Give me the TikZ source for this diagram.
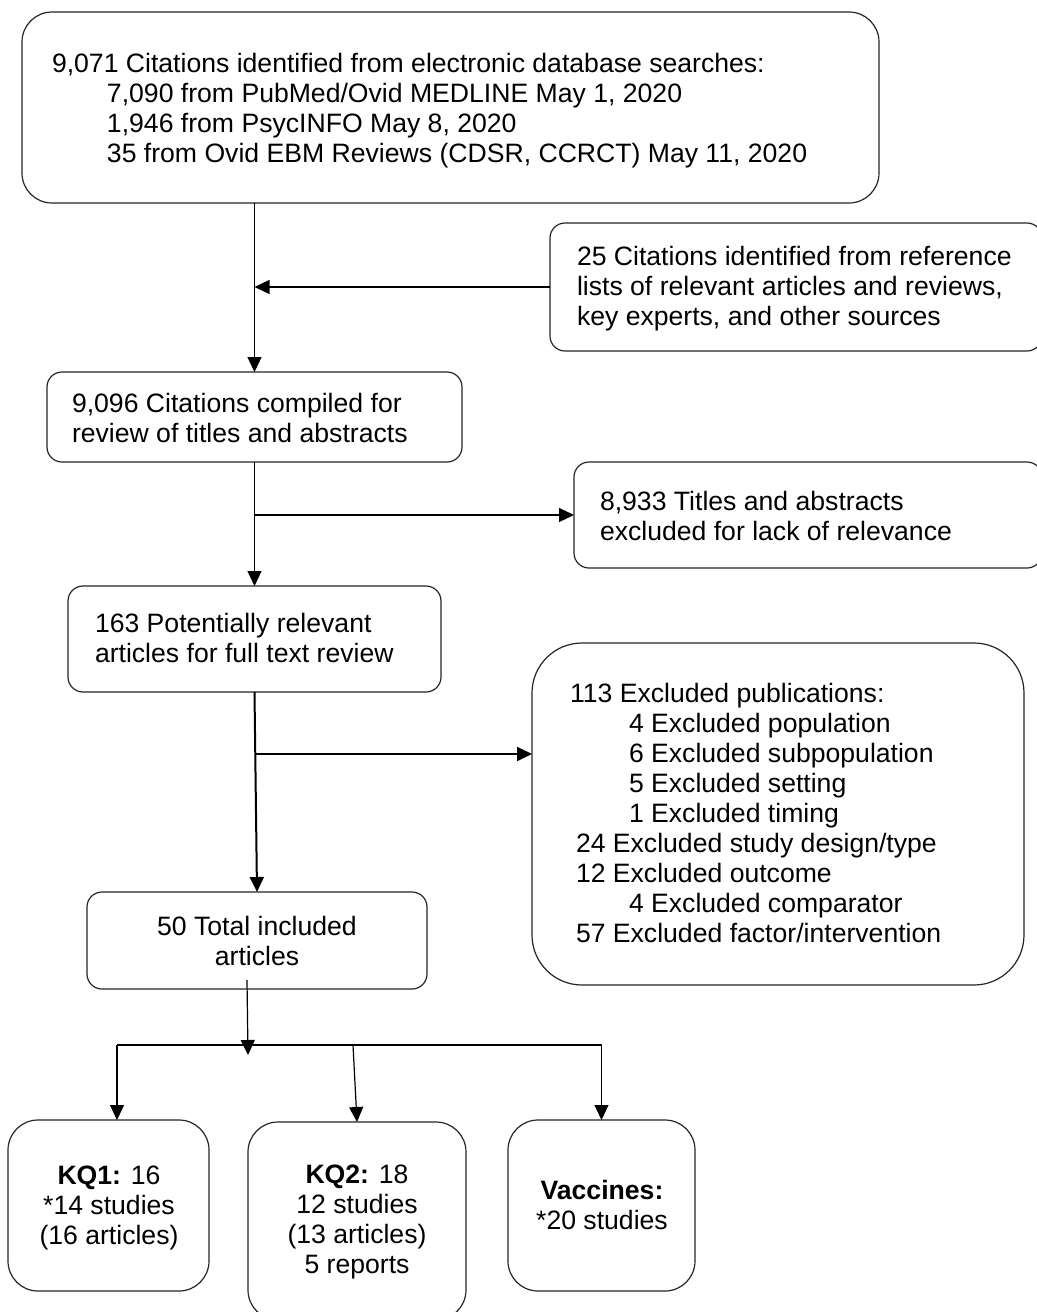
\documentclass[tikz,border=0pt]{standalone}
\usepackage{fontspec}
\setmainfont{Liberation Sans}
\usetikzlibrary{arrows.meta}
\tikzset{
  box/.style={draw=black!85, line width=0.6pt, inner sep=0pt, outer sep=0pt, rounded corners=7.5pt},
  txt/.style={inner sep=0pt, outer sep=0pt, font=\fontsize{13.3}{15}\selectfont, align=left, anchor=north west},
  ctxt/.style={txt, align=center, anchor=north},
  ln/.style={line width=0.6pt},
  arr/.style={line width=0.6pt, -{Triangle[length=7.5pt,width=7pt]}},
}
\begin{document}
\begin{tikzpicture}[x=0.5pt, y=-0.5pt]
\useasboundingbox (0,0) rectangle (1037,1312);
\fill[white] (0,0) rectangle (1037,1312);
\clip (0,0) rectangle (1037,1312);

% boxes
\node[box, rounded corners=15pt, minimum width=428.5pt, minimum height=95.5pt] (top) at (450.5,107.5) {};
\node[box, minimum width=246pt, minimum height=64pt] (rb1) at (796,287) {};
\node[box, minimum width=207.5pt, minimum height=45pt] (b2) at (254.5,417) {};
\node[box, minimum width=234pt, minimum height=53pt] (rb2) at (808,515) {};
\node[box, minimum width=186.5pt, minimum height=53pt] (b3) at (254.5,639) {};
\node[box, rounded corners=25pt, minimum width=246pt, minimum height=171pt] (big) at (778,814) {};
\node[box, minimum width=170pt, minimum height=48.5pt] (b4) at (257,940.5) {};
\node[box, rounded corners=15pt, minimum width=100.5pt, minimum height=85.5pt] (kq1) at (108.5,1205.5) {};
\node[box, rounded corners=15pt, minimum width=109pt, minimum height=99pt] (kq2) at (357,1221) {};
\node[box, rounded corners=15pt, minimum width=93.5pt, minimum height=85.5pt] (vac) at (601.5,1205.5) {};

% texts
\node[txt] (ttop) at (52,51) {\strut 9,071 Citations identified from electronic database searches:\\
\hspace*{27.5pt}7,090 from PubMed/Ovid MEDLINE May 1, 2020\\
\hspace*{27.5pt}1,946 from PsycINFO May 8, 2020\\
\hspace*{27.5pt}35 from Ovid EBM Reviews (CDSR, CCRCT) May 11, 2020};
\node[txt] (trb1) at (577,244) {\strut 25 Citations identified from reference\\lists of relevant articles and reviews,\\key experts, and other sources};
\node[txt] (tb2) at (72,391) {\strut 9,096 Citations compiled for\\review of titles and abstracts};
\node[txt] (trb2) at (600,489) {\strut 8,933 Titles and abstracts\\excluded for lack of relevance};
\node[txt] (tb3) at (95,611) {\strut 163 Potentially relevant\\articles for full text review};
\node[txt] (tbig) at (570,681) {\strut 113 Excluded publications:\\
\hspace*{29.5pt}4 Excluded population\\
\hspace*{29.5pt}6 Excluded subpopulation\\
\hspace*{29.5pt}5 Excluded setting\\
\hspace*{29.5pt}1 Excluded timing\\
\hspace*{3pt}24 Excluded study design/type\\
\hspace*{3pt}12 Excluded outcome\\
\hspace*{29.5pt}4 Excluded comparator\\
\hspace*{3pt}57 Excluded factor/intervention};
\node[ctxt] (tb4) at (257,914) {\strut 50 Total included\\articles};
\node[ctxt] (tkq1) at (109,1163) {\strut\textbf{KQ1:} 16\\{}*14 studies\\(16 articles)};
\node[ctxt] (tkq2) at (357,1162) {\strut\textbf{KQ2:} 18\\12 studies\\(13 articles)\\5 reports};
\node[ctxt] (tvac) at (602,1178) {\strut\textbf{Vaccines:}\\{}*20 studies};

% connectors
\draw[arr] (b2.north |- top.south) -- (b2.north);
\draw[arr] (rb1.west) -- (rb1.west -| b2.north);
\draw[arr] (b2.south) -- (b3.north);
\draw[arr] (b2.south |- rb2.west) -- (rb2.west);
\draw[arr, line width=1pt] (b3.south) -- (b4.north);
\coordinate (br) at (256,754);
\draw[arr, line width=1pt] (br) -- (br -| big.west);
\coordinate (b4o) at (247,980);
\coordinate (jt) at (248,1055);
\draw[arr] (b4o) -- (jt);
\coordinate (jl) at (117,1045);
\coordinate (jm) at (353,1045);
\coordinate (jr) at (601.5,1045);
\draw[ln] (jl) -- (jr);
\draw[arr] (jl) -- (jl |- kq1.north);
\draw[arr] (jm) -- (kq2.north);
\draw[arr] (jr) -- (vac.north);
\end{tikzpicture}
\end{document}
